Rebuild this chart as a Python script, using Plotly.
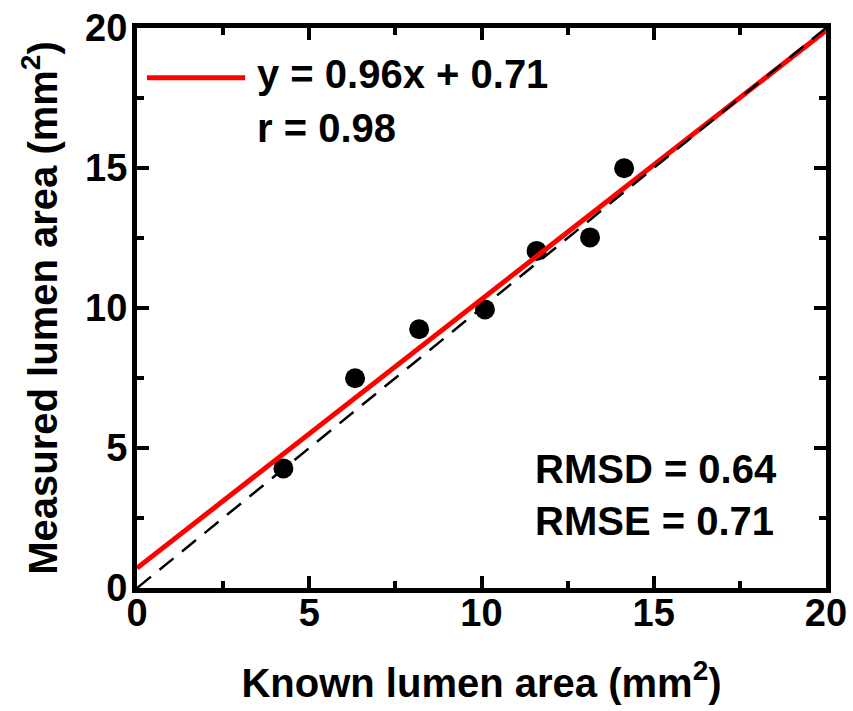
import plotly.graph_objects as go

# Data
known_area = [4.25, 6.33, 8.19, 10.10, 11.60, 13.15, 14.14]
measured_area = [4.27, 7.49, 9.24, 9.95, 12.04, 12.52, 14.99]

fit_slope = 0.96
fit_intercept = 0.71
fit_x = [0, 20]
fit_y = [fit_slope * v + fit_intercept for v in fit_x]
identity_x = [0, 20]
identity_y = [0, 20]

x_ticks = [0, 5, 10, 15, 20]
y_ticks = [0, 5, 10, 15, 20]

FONT = "Arial, Liberation Sans, Helvetica, sans-serif"

fig = go.Figure()
fig.add_trace(go.Scatter(x=known_area, y=measured_area, mode="markers",
                         marker=dict(color="black", size=20), showlegend=False,
                         cliponaxis=False))
fig.add_trace(go.Scatter(x=fit_x, y=fit_y, mode="lines",
                         line=dict(color="#ff0000", width=5), showlegend=False))
fig.add_trace(go.Scatter(x=identity_x, y=identity_y, mode="lines",
                         line=dict(color="black", width=2.5, dash="18px,11px"),
                         showlegend=False))

axis_common = dict(
    range=[0, 20], showline=True, linewidth=5, linecolor="black", mirror="ticks",
    ticks="inside", ticklen=12, tickwidth=4, tickcolor="black",
    showgrid=False, zeroline=False,
    tickfont=dict(family=FONT, size=38, color="black", weight="bold"),
    minor=dict(ticks="inside", ticklen=7, tickwidth=4, tickcolor="black", dtick=2.5, showgrid=False),
)

fig.update_xaxes(**axis_common, tickvals=x_ticks, ticklabelstandoff=-13,
                 title=dict(text="Known lumen area (mm<sup>2</sup>)",
                            font=dict(family=FONT, size=40, color="black", weight="bold"),
                            standoff=38))
fig.update_yaxes(**axis_common, tickvals=y_ticks, ticklabelstandoff=-3,
                 title=dict(text="Measured lumen area (mm<sup>2</sup>)",
                            font=dict(family=FONT, size=40, color="black", weight="bold"),
                            standoff=17))

ann_font = dict(family=FONT, size=40, color="black", weight="bold")
texts = [
    ("y = 0.96x + 0.71", 0.171, 0.918),
    ("r = 0.98", 0.171, 0.821),
    ("RMSD = 0.64", 0.575, 0.2125),
    ("RMSE = 0.71", 0.575, 0.1196),
]
for t, ax, ay in texts:
    fig.add_annotation(text=t, x=ax, y=ay, xref="paper", yref="paper",
                       xanchor="left", yanchor="middle", showarrow=False,
                       font=ann_font)

fig.add_shape(type="line", xref="paper", yref="paper",
              x0=0.0145, x1=0.157, y0=0.911, y1=0.911,
              line=dict(color="#ff0000", width=5))

fig.update_layout(
    width=853, height=711,
    margin=dict(l=137, r=27, t=28, b=123, autoexpand=False),
    paper_bgcolor="white", plot_bgcolor="white",
    font=dict(family=FONT, color="black"),
)

fig.write_html("out.html", config={"displayModeBar": False},
               post_script="document.body.style.margin='0';document.body.style.overflow='hidden';")
